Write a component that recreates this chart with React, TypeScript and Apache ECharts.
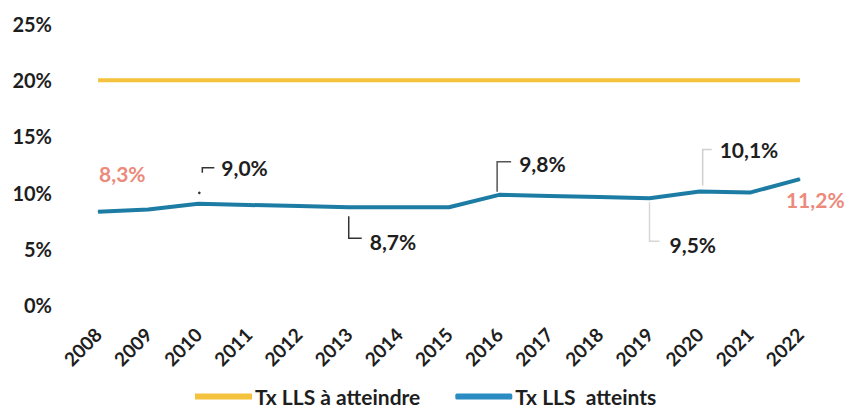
import React, { useEffect, useRef } from "react";
import * as echarts from "echarts";

const years = ["2008", "2009", "2010", "2011", "2012", "2013", "2014", "2015", "2016", "2017", "2018", "2019", "2020", "2021", "2022"];
const targetRate = [20, 20, 20, 20, 20, 20, 20, 20, 20, 20, 20, 20, 20, 20, 20];
const achievedRate = [8.3, 8.5, 9.0, 8.9, 8.8, 8.7, 8.7, 8.7, 9.8, 9.7, 9.6, 9.5, 10.1, 10.0, 11.2];
const labelledYears = ["2008", "2010", "2013", "2016", "2019", "2020", "2022"];
const yTicks = [0, 5, 10, 15, 20, 25];

const FONT = "Lato";
const DARK = "#1e1e1e";
const SALMON = "#ec8a7c";
const YELLOW = "#f4c23c";
const BLUE = "#1c7ca4";

// label placement (pixels relative to the data point) and leader shapes
const labelStyle: Record<string, { dx: number; dy: number; color: string; leader?: number[][]; leaderColor?: string; dot?: number[] }> = {
  "2008": { dx: 1, dy: -38, color: SALMON },
  "2010": { dx: 23, dy: -36, color: DARK, leader: [[4, -31], [4, -36], [16, -36]], leaderColor: "#333", dot: [1, -11] },
  "2013": { dx: 21, dy: 34, color: DARK, leader: [[0, 9], [0, 31], [13, 31]], leaderColor: "#333" },
  "2016": { dx: 20, dy: -31, color: DARK, leader: [[-2, -3], [-2, -33], [12, -33]], leaderColor: "#555" },
  "2019": { dx: 20, dy: 46, color: DARK, leader: [[0, 4], [0, 43], [10, 43]], leaderColor: "#d6d6d6" },
  "2020": { dx: 20, dy: -42, color: DARK, leader: [[3, -6], [3, -42], [12, -42]], leaderColor: "#d0d0d0" },
  "2022": { dx: -14, dy: 20, color: SALMON },
};

const fmt = (v: number) => v.toFixed(1).replace(".", ",") + "%";

export default function App() {
  const ref = useRef<HTMLDivElement>(null);
  useEffect(() => {
    if (!ref.current) return;
    const chart = echarts.init(ref.current, null, { renderer: "svg" });
    const achievedData = achievedRate.map((v, i) => {
      const y = years[i];
      const s = labelStyle[y];
      if (!s || labelledYears.indexOf(y) < 0) return { value: v };
      return {
        value: v,
        label: {
          show: true,
          position: "inside",
          offset: [s.dx, s.dy],
          align: "left",
          verticalAlign: "middle",
          color: s.color,
          fontFamily: FONT,
          fontWeight: "bold",
          fontSize: 21,
          formatter: () => fmt(v),
        },
      };
    });
    chart.setOption({
      animation: false,
      backgroundColor: "#ffffff",
      grid: { left: 73, right: 24, top: 24, bottom: 103 },
      xAxis: {
        type: "category",
        data: years,
        boundaryGap: true,
        axisLine: { show: false },
        axisTick: { show: false },
        axisLabel: {
          rotate: 45,
          margin: 26,
          color: DARK,
          fontFamily: FONT,
          fontWeight: "bold",
          fontSize: 19,
          interval: 0,
        },
      },
      yAxis: {
        type: "value",
        min: yTicks[0],
        max: yTicks[yTicks.length - 1],
        interval: 5,
        splitLine: { show: false },
        axisLine: { show: false },
        axisTick: { show: false },
        axisLabel: {
          margin: 21,
          color: DARK,
          fontFamily: FONT,
          fontWeight: "bold",
          fontSize: 20,
          formatter: (v: number) => v + "%",
        },
      },
      legend: {
        left: 195,
        top: 386,
        padding: 0,
        itemGap: 35,
        itemWidth: 57,
        itemHeight: 6,
        textStyle: { color: DARK, fontFamily: FONT, fontWeight: "bold", fontSize: 21, padding: [0, 0, 0, -2] },
        data: [
          { name: "Tx LLS à atteindre", icon: "rect", itemStyle: { color: YELLOW, opacity: 1 } },
          { name: "Tx LLS  atteints", icon: "roundRect", itemStyle: { color: "#2a8cc2", opacity: 1 } },
        ],
      },
      series: [
        {
          name: "Tx LLS à atteindre",
          type: "line",
          data: targetRate,
          showSymbol: false,
          symbol: "none",
          lineStyle: { color: YELLOW, width: 4 },
          itemStyle: { color: YELLOW },
        },
        {
          name: "Tx LLS  atteints",
          type: "line",
          data: achievedData,
          symbol: "circle",
          symbolSize: 1,
          showSymbol: true,
          itemStyle: { color: BLUE },
          lineStyle: { color: BLUE, width: 4 },
          label: { show: false },
        },
      ],
    });

    const elements: any[] = [];
    labelledYears.forEach((y) => {
      const i = years.indexOf(y);
      const s = labelStyle[y];
      const p = chart.convertToPixel({ seriesIndex: 1 }, [i, achievedRate[i]]) as number[];
      if (s.leader) {
        elements.push({
          type: "polyline",
          silent: true,
          shape: { points: s.leader.map((q) => [p[0] + q[0], p[1] + q[1]]) },
          style: { stroke: s.leaderColor, lineWidth: 1.5, fill: null },
        });
      }
      if (s.dot) {
        elements.push({
          type: "circle",
          silent: true,
          shape: { cx: p[0] + s.dot[0], cy: p[1] + s.dot[1], r: 1.3 },
          style: { fill: "#333" },
        });
      }
    });
    chart.setOption({ graphic: { elements } });

    return () => chart.dispose();
  }, []);
  return <div ref={ref} style={{ width: 849, height: 408, position: "absolute", left: 0, top: 0 }} />;
}
